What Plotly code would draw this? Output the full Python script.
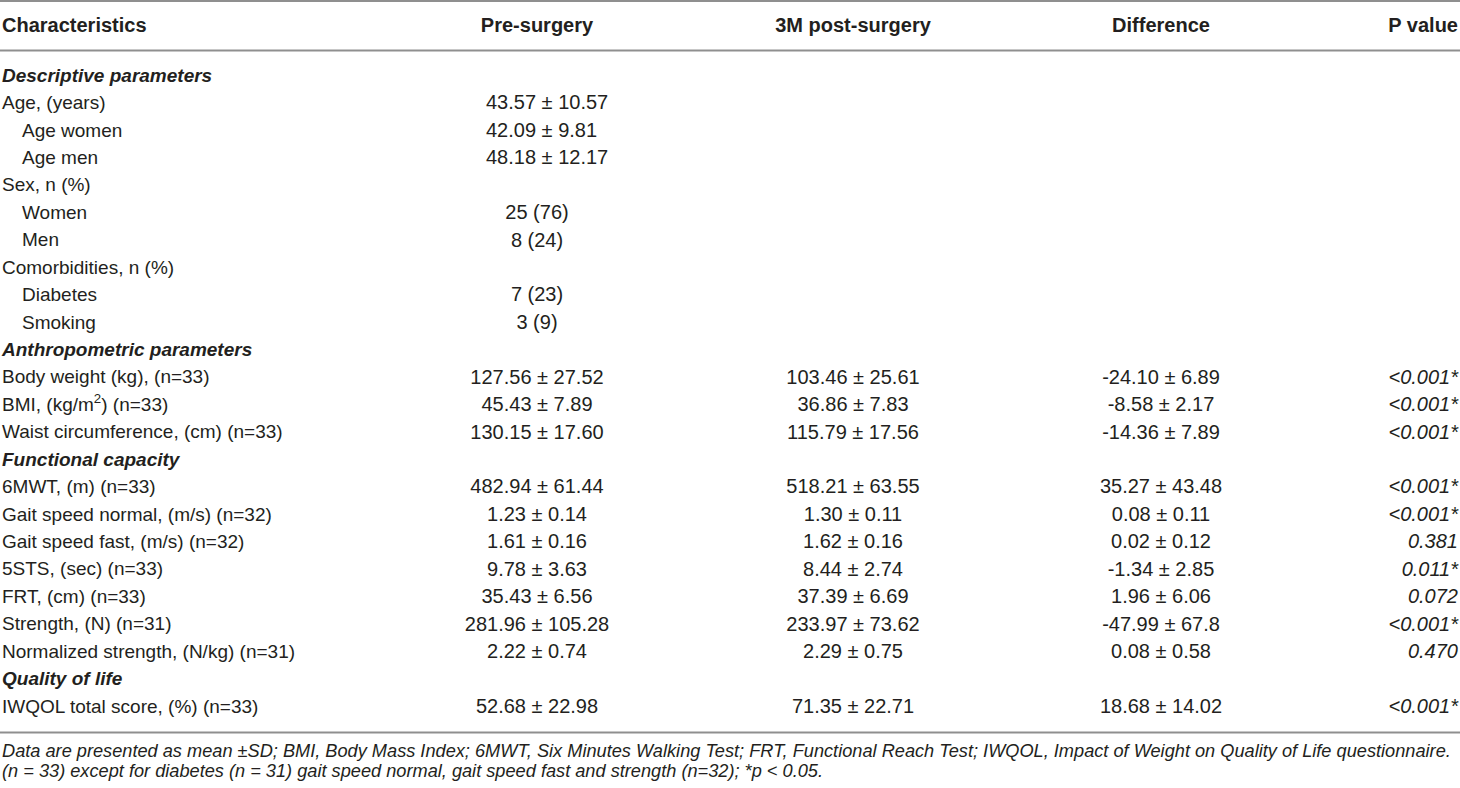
import plotly.graph_objects as go

# ---------------- data ----------------
headers = ["Characteristics", "Pre-surgery", "3M post-surgery", "Difference", "P value"]

characteristics = [
    "Descriptive parameters",
    "Age, (years)",
    "Age women",
    "Age men",
    "Sex, n (%)",
    "Women",
    "Men",
    "Comorbidities, n (%)",
    "Diabetes",
    "Smoking",
    "Anthropometric parameters",
    "Body weight (kg), (n=33)",
    "BMI, (kg/m<sup>2</sup>) (n=33)",
    "Waist circumference, (cm) (n=33)",
    "Functional capacity",
    "6MWT, (m) (n=33)",
    "Gait speed normal, (m/s) (n=32)",
    "Gait speed fast, (m/s) (n=32)",
    "5STS, (sec) (n=33)",
    "FRT, (cm) (n=33)",
    "Strength, (N) (n=31)",
    "Normalized strength, (N/kg) (n=31)",
    "Quality of life",
    "IWQOL total score, (%) (n=33)",
]

# row kind: 'section' heading, 'main' row, 'sub' (indented) row
row_kind = [
    "section", "main", "sub", "sub", "main", "sub", "sub", "main", "sub", "sub",
    "section", "main", "main", "main",
    "section", "main", "main", "main", "main", "main", "main", "main",
    "section", "main",
]

pre_surgery = [
    "", "43.57 ± 10.57", "42.09 ± 9.81", "48.18 ± 12.17", "", "25 (76)", "8 (24)", "", "7 (23)", "3 (9)",
    "", "127.56 ± 27.52", "45.43 ± 7.89", "130.15 ± 17.60",
    "", "482.94 ± 61.44", "1.23 ± 0.14", "1.61 ± 0.16", "9.78 ± 3.63", "35.43 ± 6.56",
    "281.96 ± 105.28", "2.22 ± 0.74",
    "", "52.68 ± 22.98",
]

post_surgery = [
    "", "", "", "", "", "", "", "", "", "",
    "", "103.46 ± 25.61", "36.86 ± 7.83", "115.79 ± 17.56",
    "", "518.21 ± 63.55", "1.30 ± 0.11", "1.62 ± 0.16", "8.44 ± 2.74", "37.39 ± 6.69",
    "233.97 ± 73.62", "2.29 ± 0.75",
    "", "71.35 ± 22.71",
]

difference = [
    "", "", "", "", "", "", "", "", "", "",
    "", "-24.10 ± 6.89", "-8.58 ± 2.17", "-14.36 ± 7.89",
    "", "35.27 ± 43.48", "0.08 ± 0.11", "0.02 ± 0.12", "-1.34 ± 2.85", "1.96 ± 6.06",
    "-47.99 ± 67.8", "0.08 ± 0.58",
    "", "18.68 ± 14.02",
]

p_value = [
    "", "", "", "", "", "", "", "", "", "",
    "", "<0.001*", "<0.001*", "<0.001*",
    "", "<0.001*", "<0.001*", "0.381", "0.011*", "0.072", "<0.001*", "0.470",
    "", "<0.001*",
]

footnotes = [
    "Data are presented as mean ±SD; BMI, Body Mass Index; 6MWT, Six Minutes Walking Test; "
    "FRT, Functional Reach Test; IWQOL, Impact of Weight on Quality of Life questionnaire.",
    "(n = 33) except for diabetes (n = 31) gait speed normal, gait speed fast and strength (n=32); *p < 0.05.",
]

# ---------------- layout / style ----------------
W, H = 1460, 788
FONT = "Liberation Sans, Arial, sans-serif"
TXT = "#231f20"
RULE = "#8f8f8f"
SIZE_LABEL = 19
SIZE_NUM = 20
SIZE_HEAD = 20
SIZE_FOOT = 18.2

X_LEFT, X_INDENT = 2, 22
X_PRE, X_PRE_LEFT, X_POST, X_DIFF, X_P = 537, 486, 853, 1161, 1458
Y_HEAD, Y_ROW0, ROW_STEP = 27, 77, 27.43
Y_RULES = [1, 50.5, 732.5]
Y_FOOT0, FOOT_STEP = 752, 20
LEFT_ALIGNED_PRE = {"Age, (years)", "Age women", "Age men"}

row_y = [Y_ROW0 + i * ROW_STEP for i in range(len(characteristics))]


def esc(s):
    return s.replace("<0", "&lt;0")


fig = go.Figure()


def add_text(xs, ys, texts, pos, size, color=TXT):
    fig.add_trace(go.Scatter(
        x=xs, y=ys, text=texts, mode="text", textposition=pos,
        textfont=dict(family=FONT, size=size, color=color),
        hoverinfo="skip", showlegend=False,
    ))


# header
add_text([X_LEFT], [Y_HEAD], [f"<b>{headers[0]}</b>"], "middle right", SIZE_HEAD)
add_text([X_PRE, X_POST, X_DIFF], [Y_HEAD] * 3, [f"<b>{h}</b>" for h in headers[1:4]],
         "middle center", SIZE_HEAD)
add_text([X_P], [Y_HEAD], [f"<b>{headers[4]}</b>"], "middle left", SIZE_HEAD)

# first column
lx, ly, lt = [], [], []
for lab, kind, y in zip(characteristics, row_kind, row_y):
    if kind == "section":
        lx.append(X_LEFT); lt.append(f"<b><i>{lab}</i></b>")
    elif kind == "sub":
        lx.append(X_INDENT); lt.append(lab)
    else:
        lx.append(X_LEFT); lt.append(lab)
    ly.append(y)
add_text(lx, ly, lt, "middle right", SIZE_LABEL)

# pre-surgery
cx, cy, ct, ax, ay, at = [], [], [], [], [], []
for lab, v, y in zip(characteristics, pre_surgery, row_y):
    if not v:
        continue
    if lab in LEFT_ALIGNED_PRE:
        ax.append(X_PRE_LEFT); ay.append(y); at.append(v)
    else:
        cx.append(X_PRE); cy.append(y); ct.append(v)
add_text(cx, cy, ct, "middle center", SIZE_NUM)
add_text(ax, ay, at, "middle right", SIZE_NUM)

for col, xpos in ((post_surgery, X_POST), (difference, X_DIFF)):
    pts = [(y, v) for v, y in zip(col, row_y) if v]
    add_text([xpos] * len(pts), [p[0] for p in pts], [p[1] for p in pts], "middle center", SIZE_NUM)

pts = [(y, v) for v, y in zip(p_value, row_y) if v]
add_text([X_P] * len(pts), [p[0] for p in pts], [f"<i>{esc(p[1])}</i>" for p in pts],
         "middle left", SIZE_NUM)

# footnotes
add_text([X_LEFT] * len(footnotes), [Y_FOOT0 + i * FOOT_STEP for i in range(len(footnotes))],
         [f"<i>{f}</i>" for f in footnotes], "middle right", SIZE_FOOT)

shapes = [dict(type="line", xref="x", yref="y", x0=0, x1=W, y0=y, y1=y,
               line=dict(color=RULE, width=2)) for y in Y_RULES]

fig.update_layout(
    width=W, height=H, margin=dict(l=0, r=0, t=0, b=0),
    paper_bgcolor="white", plot_bgcolor="white",
    xaxis=dict(range=[0, W], visible=False, fixedrange=True),
    yaxis=dict(range=[H, 0], visible=False, fixedrange=True),
    shapes=shapes,
)

fig.write_html(
    "out.html",
    config={"displayModeBar": False},
    post_script="document.body.style.margin='0';document.body.style.padding='0';",
)
